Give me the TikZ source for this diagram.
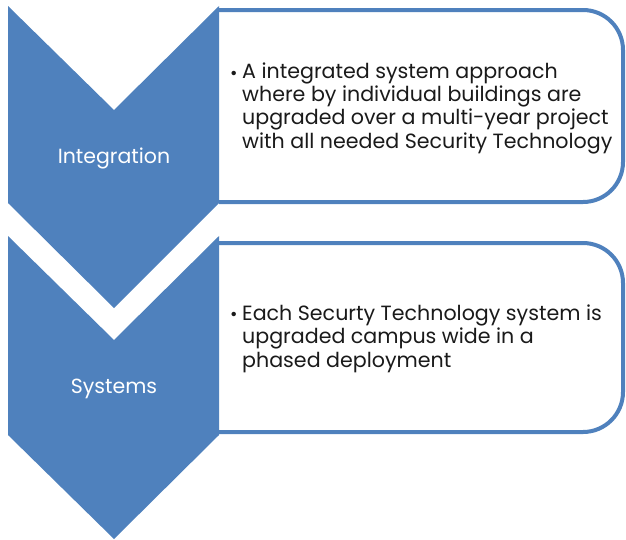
\documentclass[tikz,border=0pt]{standalone}
\usepackage{fontspec}
\setmainfont{Poppins}
\definecolor{acc}{HTML}{4F81BD}
\definecolor{txt}{HTML}{1A1A1A}
\begin{document}
\begin{tikzpicture}[x=1pt,y=-1pt,
  chev/.style={fill=acc,draw=none},
  listbox/.style={draw=acc,line width=4pt,fill=white,rounded corners=40pt},
  chevlabel/.style={text=white,font=\fontsize{20.5}{24}\selectfont,inner sep=0pt},
  bodytext/.style={text=txt,font=\fontsize{20.6}{23.2}\selectfont,align=left,inner sep=0pt,anchor=base west},
  bul/.style={text=txt,font=\fontsize{18}{23}\selectfont,inner sep=0pt,anchor=base west}]
\useasboundingbox (0,0) rectangle (626,539);
% boxes
\draw[listbox] (219,10) -- (623,10) -- (623,202) -- (219,202);
\draw[listbox] (219,243) -- (623,243) -- (623,432) -- (219,432);
% chevrons
\fill[chev] (8,6) -- (114,110) -- (219,6) -- (219,203) -- (114,308) -- (8,203) -- cycle;
\fill[chev] (8,236) -- (114,340) -- (219,236) -- (219,435) -- (114,539) -- (8,435) -- cycle;
\node[chevlabel] (c1) at (114,158) {Integration};
\node[chevlabel] (c2) at (114,389) {Systems};
% texts
\node[bul] (b1) at (230,79) {\textbullet};
\node[bodytext] (t1) at (242,148) {A integrated system approach\\where by individual buildings are\\upgraded over a multi-year project\\with all needed Security Technology};
\node[bul] (b2) at (230,320) {\textbullet};
\node[bodytext] (t2) at (242,367) {Each Securty Technology system is\\upgraded campus wide in a\\phased deployment};
\end{tikzpicture}
\end{document}
